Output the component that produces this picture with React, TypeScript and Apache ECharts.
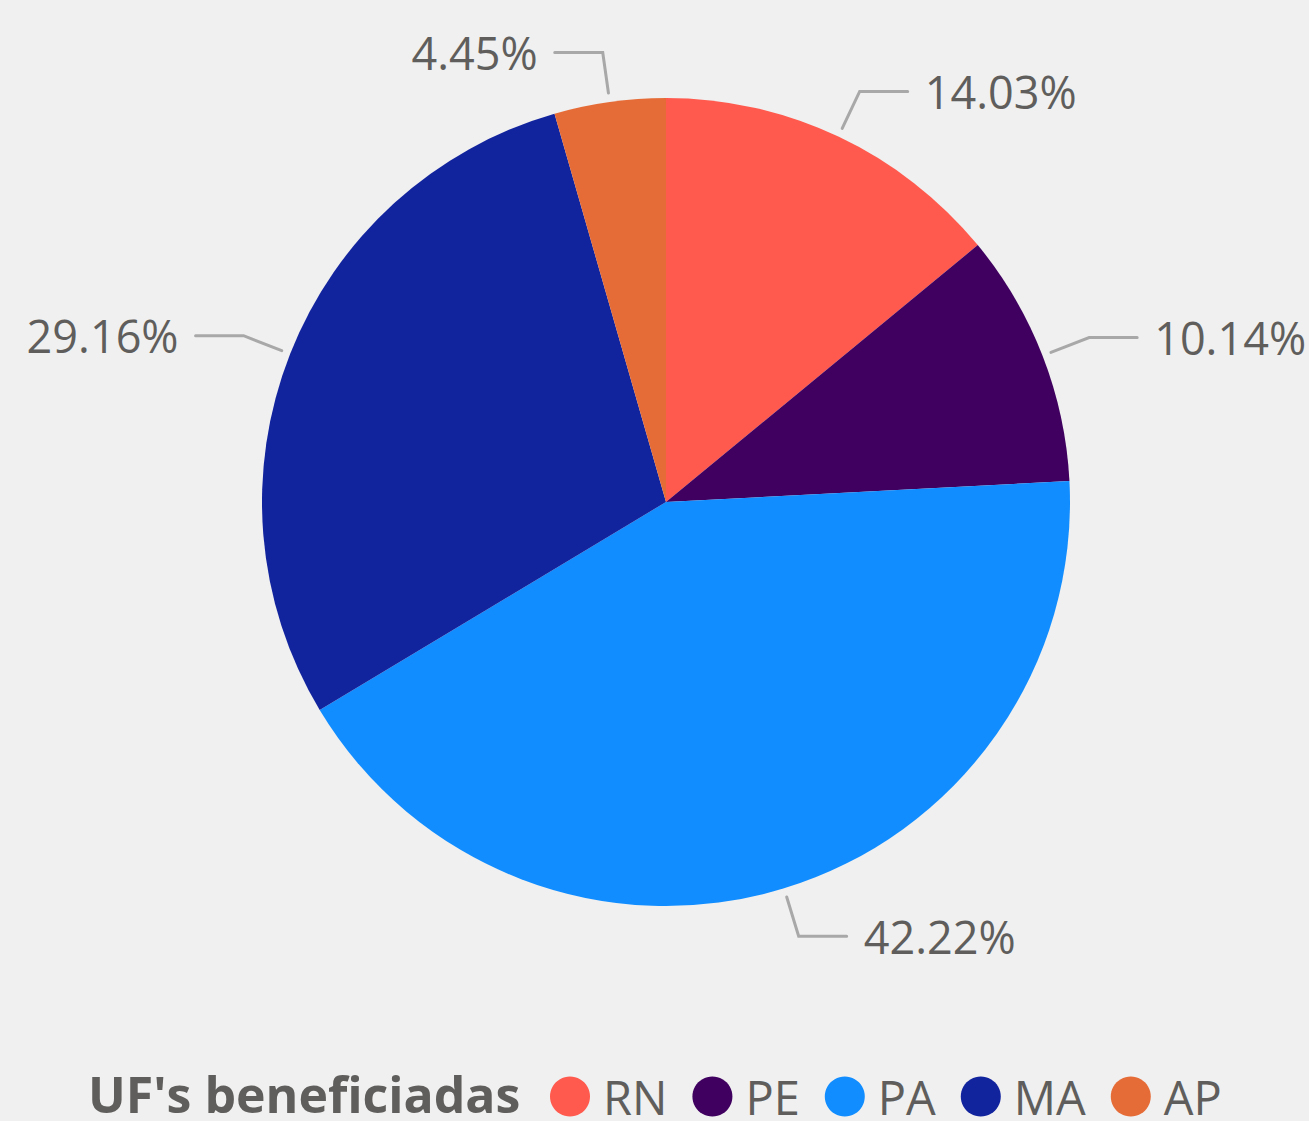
import React, { useEffect, useRef } from "react";
import * as echarts from "echarts";

const categories = ["RN", "PE", "PA", "MA", "AP"];
const values = [14.03, 10.14, 42.22, 29.16, 4.45];
const colors = ["#FF5A4D", "#3F005F", "#118DFF", "#12239E", "#E66C37"];
const legendTitle = "UF's beneficiadas";

const FONT = "'Open Sans', 'Noto Sans', sans-serif";

export default function App() {
  const ref = useRef<HTMLDivElement>(null);
  useEffect(() => {
    document.body.style.margin = "0";
    document.body.style.background = "#f0f0f0";
    const chart = echarts.init(ref.current!, null, { renderer: "svg" });
    const data = categories.map((name, i) => ({
      name,
      value: values[i],
      itemStyle: { color: colors[i] },
    }));
    chart.setOption({
      animation: false,
      backgroundColor: "#f0f0f0",
      textStyle: { fontFamily: FONT },
      legend: {
        data: categories,
        left: 550,
        top: 1073,
        icon: "circle",
        itemWidth: 40,
        itemHeight: 40,
        itemGap: 25,
        padding: 0,
        textStyle: {
          fontFamily: FONT,
          fontSize: 47,
          lineHeight: 44,
          color: "#605E5C",
          padding: [0, 0, 0, 8],
        },
      },
      graphic: [
        {
          type: "text",
          left: 88,
          top: 1069,
          style: {
            text: legendTitle,
            fontFamily: FONT,
            fontSize: 50,
            lineHeight: 48,
            fontWeight: "bold",
            fill: "#605E5C",
          },
        },
      ],
      series: [
        {
          type: "pie",
          center: [666, 502],
          radius: 404,
          startAngle: 90,
          clockwise: true,
          silent: true,
          label: { show: false },
          labelLine: { show: false },
          data,
        },
        {
          type: "pie",
          center: [666, 502],
          radius: 413,
          startAngle: 90,
          clockwise: true,
          silent: true,
          avoidLabelOverlap: false,
          legendHoverLink: false,
          itemStyle: { color: "rgba(0,0,0,0)" },
          label: {
            show: true,
            formatter: (p: any) => p.value.toFixed(2) + "%",
            fontFamily: FONT,
            fontSize: 45,
            color: "#605E5C",
            distanceToLabelLine: 17,
          },
          labelLine: {
            show: true,
            length: 41,
            length2: 48,
            lineStyle: { color: "#A8A8A8", width: 3, cap: "round" },
          },
          data: categories.map((name, i) => ({
            name: name + "_lbl",
            value: values[i],
          })),
        },
      ],
    });
    return () => chart.dispose();
  }, []);
  return <div ref={ref} style={{ width: 1309, height: 1121 }} />;
}
